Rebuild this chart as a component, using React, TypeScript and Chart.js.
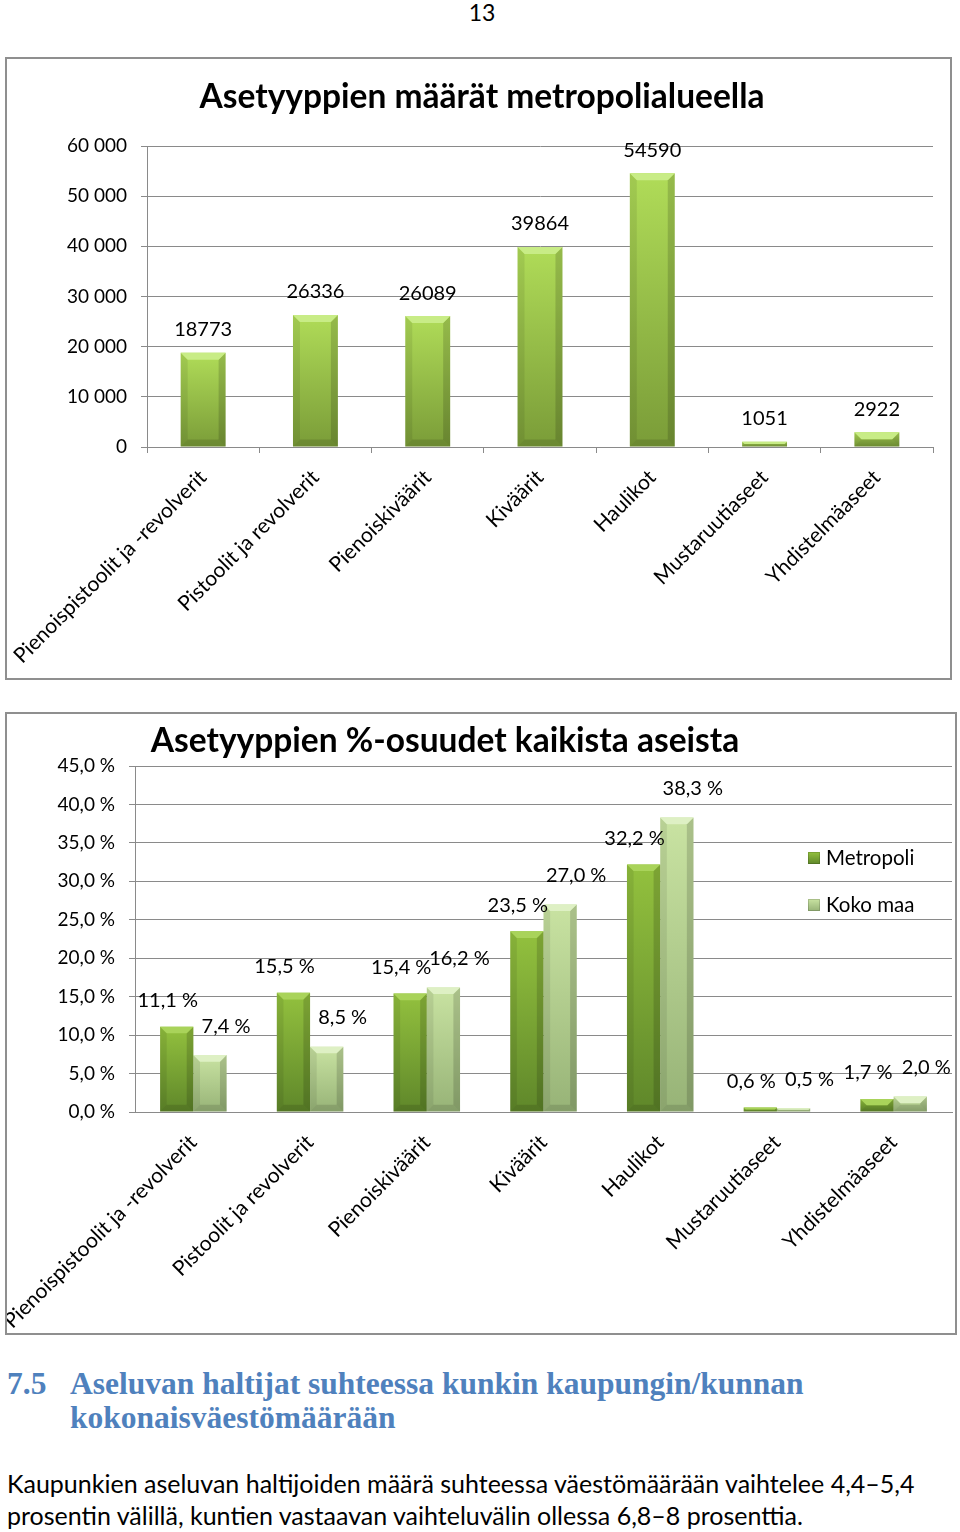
import React, { useEffect, useRef } from "react";
import { Chart, registerables } from "chart.js";

Chart.register(...registerables);

// ---------- DATA ----------
const categories = [
  "Pienoispistoolit ja -revolverit",
  "Pistoolit ja revolverit",
  "Pienoiskiväärit",
  "Kiväärit",
  "Haulikot",
  "Mustaruutiaseet",
  "Yhdistelmäaseet",
];
const countValues = [18773, 26336, 26089, 39864, 54590, 1051, 2922];
const countAxis = { min: 0, max: 60000, step: 10000 };

const seriesNames = ["Metropoli", "Koko maa"];
const metropoliShare = [11.1, 15.5, 15.4, 23.5, 32.2, 0.6, 1.7];
const kokoMaaShare = [7.4, 8.5, 16.2, 27.0, 38.3, 0.5, 2.0];
const shareAxis = { min: 0, max: 45, step: 5 };

const title1 = "Asetyyppien määrät metropolialueella";
const title2 = "Asetyyppien %-osuudet kaikista aseista";

// ---------- HELPERS ----------
const FONT = "Lato, 'Noto Sans', sans-serif";
const GRID = "#8a8a8a";

const fmtThousands = (v: number) => String(Math.round(v)).replace(/\B(?=(\d{3})+(?!\d))/g, " ");
const fmtPlain = (v: number) => String(v);
const fmtPct = (v: number) => v.toFixed(1).replace(".", ",") + " %";

function gradientFill(top: string, bottom: string) {
  return (ctx: any) => {
    const chart = ctx.chart;
    if (ctx.type !== "data" || !chart.chartArea) return top;
    const y = chart.scales.y;
    const y0 = y.getPixelForValue(ctx.raw);
    const y1 = y.getPixelForValue(0);
    if (!isFinite(y0) || !isFinite(y1) || y1 - y0 < 1) return top;
    const g = chart.ctx.createLinearGradient(0, y0, 0, y1);
    g.addColorStop(0, top);
    g.addColorStop(1, bottom);
    return g;
  };
}

function bevelPlugin(capColors: string[]) {
  return {
    id: "bevel",
    afterDatasetsDraw(chart: any) {
      const ctx = chart.ctx;
      chart.data.datasets.forEach((_ds: any, di: number) => {
        const meta = chart.getDatasetMeta(di);
        meta.data.forEach((el: any) => {
          const { x, y, base, width } = el.getProps(["x", "y", "base", "width"], true);
          const l = x - width / 2;
          const r = x + width / 2;
          const h = base - y;
          if (h <= 0) return;
          const c = Math.min(7, h / 2, width / 5);
          ctx.save();
          ctx.fillStyle = "rgba(0,0,0,0.08)";
          ctx.beginPath();
          ctx.moveTo(l, y); ctx.lineTo(l + c, y + c); ctx.lineTo(l + c, base - c); ctx.lineTo(l, base);
          ctx.closePath(); ctx.fill();
          ctx.fillStyle = "rgba(0,0,0,0.15)";
          ctx.beginPath();
          ctx.moveTo(r, y); ctx.lineTo(r - c, y + c); ctx.lineTo(r - c, base - c); ctx.lineTo(r, base);
          ctx.closePath(); ctx.fill();
          ctx.fillStyle = "rgba(0,0,0,0.12)";
          ctx.beginPath();
          ctx.moveTo(l, base); ctx.lineTo(l + c, base - c); ctx.lineTo(r - c, base - c); ctx.lineTo(r, base);
          ctx.closePath(); ctx.fill();
          ctx.fillStyle = capColors[di];
          ctx.beginPath();
          ctx.moveTo(l, y); ctx.lineTo(r, y); ctx.lineTo(r - c, y + c); ctx.lineTo(l + c, y + c);
          ctx.closePath(); ctx.fill();
          ctx.restore();
        });
      });
    },
  };
}

function valueLabelPlugin(fmt: (v: number) => string, offsets: { dx: number; dy: number }[], size: number) {
  return {
    id: "valueLabels",
    afterDatasetsDraw(chart: any) {
      const ctx = chart.ctx;
      ctx.save();
      ctx.font = `${size}px ${FONT}`;
      ctx.fillStyle = "#000";
      ctx.textAlign = "center";
      ctx.textBaseline = "middle";
      chart.data.datasets.forEach((ds: any, di: number) => {
        const meta = chart.getDatasetMeta(di);
        meta.data.forEach((el: any, i: number) => {
          const { x, y } = el.getProps(["x", "y"], true);
          const o = offsets[di];
          ctx.fillText(fmt(ds.data[i]), x + o.dx, y - o.dy);
        });
      });
      ctx.restore();
    },
  };
}

function titlePlugin(text: string, x: number, y: number, size: number) {
  return {
    id: "chartTitle",
    afterDraw(chart: any) {
      const ctx = chart.ctx;
      ctx.save();
      ctx.font = `bold ${size}px ${FONT}`;
      ctx.fillStyle = "#000";
      ctx.textAlign = "center";
      ctx.textBaseline = "middle";
      ctx.fillText(text, x, y);
      ctx.restore();
    },
  };
}

function legendPlugin(x: number, ys: number[], colors: [string, string][], size: number) {
  return {
    id: "insideLegend",
    afterDraw(chart: any) {
      const ctx = chart.ctx;
      ctx.save();
      ctx.font = `${size}px ${FONT}`;
      ctx.textBaseline = "middle";
      ctx.textAlign = "left";
      chart.data.datasets.forEach((ds: any, di: number) => {
        const cy = ys[di];
        const g = ctx.createLinearGradient(0, cy - 6, 0, cy + 6);
        g.addColorStop(0, colors[di][0]);
        g.addColorStop(1, colors[di][1]);
        ctx.fillStyle = g;
        ctx.fillRect(x, cy - 6, 12, 12);
        ctx.strokeStyle = "rgba(0,0,0,0.15)";
        ctx.strokeRect(x + 0.5, cy - 5.5, 11, 11);
        ctx.fillStyle = "#000";
        ctx.fillText(ds.label, x + 18, cy);
      });
      ctx.restore();
    },
  };
}

function baseScales(
  yMin: number,
  yMax: number,
  step: number,
  fmt: (v: number) => string,
  yWidth: number,
  xHeight: number,
  xTicks: boolean,
  xPad: number
) {
  return {
    x: {
      offset: true,
      grid: { display: true, drawOnChartArea: false, drawTicks: xTicks, tickLength: 6, color: GRID, lineWidth: 1 },
      border: { display: true, color: GRID, width: 1 },
      ticks: {
        autoSkip: false,
        minRotation: 45,
        maxRotation: 45,
        padding: xPad,
        color: "#000",
        font: { family: FONT, size: 21 },
      },
      afterFit: (s: any) => {
        s.height = xHeight;
        s.paddingLeft = 0;
        s.paddingRight = 0;
      },
    },
    y: {
      min: yMin,
      max: yMax,
      grid: { color: GRID, lineWidth: 1, tickLength: 6, drawTicks: true },
      border: { display: true, color: GRID, width: 1 },
      ticks: {
        stepSize: step,
        padding: 14,
        color: "#000",
        font: { family: FONT, size: 19 },
        callback: (v: any) => fmt(Number(v)),
      },
      afterFit: (s: any) => {
        s.width = yWidth;
        s.paddingTop = 0;
        s.paddingBottom = 0;
      },
    },
  };
}

// ---------- COMPONENTS ----------
function ChartBox({ left, top, width, height, build }: { left: number; top: number; width: number; height: number; build: () => any }) {
  const ref = useRef<HTMLCanvasElement>(null);
  useEffect(() => {
    const chart = new Chart(ref.current as HTMLCanvasElement, build());
    return () => chart.destroy();
  }, []);
  const cw = width - 4;
  const ch = height - 4;
  return (
    <div
      style={{
        position: "absolute",
        left,
        top,
        width,
        height,
        border: "2px solid #8f8f8f",
        boxSizing: "border-box",
        background: "#fff",
      }}
    >
      <canvas ref={ref} width={cw} height={ch} style={{ display: "block", width: cw, height: ch }} />
    </div>
  );
}

function buildCountChart() {
  return {
    type: "bar",
    data: {
      labels: categories,
      datasets: [
        {
          label: "Määrä",
          data: countValues,
          backgroundColor: gradientFill("#b0dc58", "#7a9c38"),
          borderWidth: 0,
          barPercentage: 0.4,
          categoryPercentage: 1,
        },
      ],
    },
    options: {
      responsive: false,
      animation: false,
      layout: { padding: { left: 0, right: 17, top: 87, bottom: 0 } },
      plugins: { legend: { display: false }, title: { display: false }, tooltip: { enabled: false } },
      scales: baseScales(countAxis.min, countAxis.max, countAxis.step, fmtThousands, 140, 231, true, 12),
    },
    plugins: [bevelPlugin(["#c8ec86"]), valueLabelPlugin(fmtPlain, [{ dx: 0, dy: 23 }], 20), titlePlugin(title1, 475, 38, 33.5)],
  };
}

const metroColors: [string, string] = ["#93c13e", "#5f872a"];
const kokoColors: [string, string] = ["#c9e3a2", "#97b377"];

function buildShareChart() {
  return {
    type: "bar",
    data: {
      labels: categories,
      datasets: [
        {
          label: seriesNames[0],
          data: metropoliShare,
          backgroundColor: gradientFill(metroColors[0], metroColors[1]),
          borderWidth: 0,
          barPercentage: 1,
          categoryPercentage: 0.57,
        },
        {
          label: seriesNames[1],
          data: kokoMaaShare,
          backgroundColor: gradientFill(kokoColors[0], kokoColors[1]),
          borderWidth: 0,
          barPercentage: 1,
          categoryPercentage: 0.57,
        },
      ],
    },
    options: {
      responsive: false,
      animation: false,
      layout: { padding: { left: 0, right: 3, top: 52, bottom: 0 } },
      plugins: { legend: { display: false }, title: { display: false }, tooltip: { enabled: false } },
      scales: baseScales(shareAxis.min, shareAxis.max, shareAxis.step, fmtPct, 128, 221, false, 18),
    },
    plugins: [
      bevelPlugin(["#a9d35a", "#def0c4"]),
      valueLabelPlugin(fmtPct, [{ dx: -9, dy: 26 }, { dx: 16, dy: 29 }], 20),
      titlePlugin(title2, 438, 27, 33.5),
      legendPlugin(801, [144, 191], [metroColors, kokoColors], 20.5),
    ],
  };
}

export default function App() {
  useEffect(() => {
    document.documentElement.style.overflow = "hidden";
    document.body.style.overflow = "hidden";
    document.body.style.margin = "0";
  }, []);
  return (
    <div style={{ position: "relative", width: 960, height: 1532, fontFamily: FONT, overflow: "hidden" }}>
      <div
        style={{
          position: "absolute",
          left: 0,
          top: 0,
          width: 964,
          textAlign: "center",
          fontSize: 23,
          lineHeight: "24px",
          color: "#000",
        }}
      >
        13
      </div>
      <ChartBox left={5} top={57} width={947} height={623} build={buildCountChart} />
      <ChartBox left={5} top={712} width={952} height={623} build={buildShareChart} />
      <div
        style={{
          position: "absolute",
          left: 7,
          top: 1367,
          fontFamily: "'Liberation Serif', serif",
          fontWeight: "bold",
          fontSize: 31.5,
          lineHeight: "34px",
          color: "#4f81bd",
          whiteSpace: "nowrap",
        }}
      >
        <span style={{ position: "absolute", left: 0, top: 0 }}>7.5</span>
        <div style={{ position: "absolute", left: 63, top: 0 }}>
          Aseluvan haltijat suhteessa kunkin kaupungin/kunnan
          <br />
          kokonaisväestömäärään
        </div>
      </div>
      <div
        style={{
          position: "absolute",
          left: 7,
          top: 1467,
          fontSize: 25,
          lineHeight: "32px",
          color: "#000",
          whiteSpace: "nowrap",
        }}
      >
        Kaupunkien aseluvan haltijoiden määrä suhteessa väestömäärään vaihtelee 4,4–5,4
        <br />
        prosentin välillä, kuntien vastaavan vaihteluvälin ollessa 6,8–8 prosenttia.
      </div>
    </div>
  );
}
